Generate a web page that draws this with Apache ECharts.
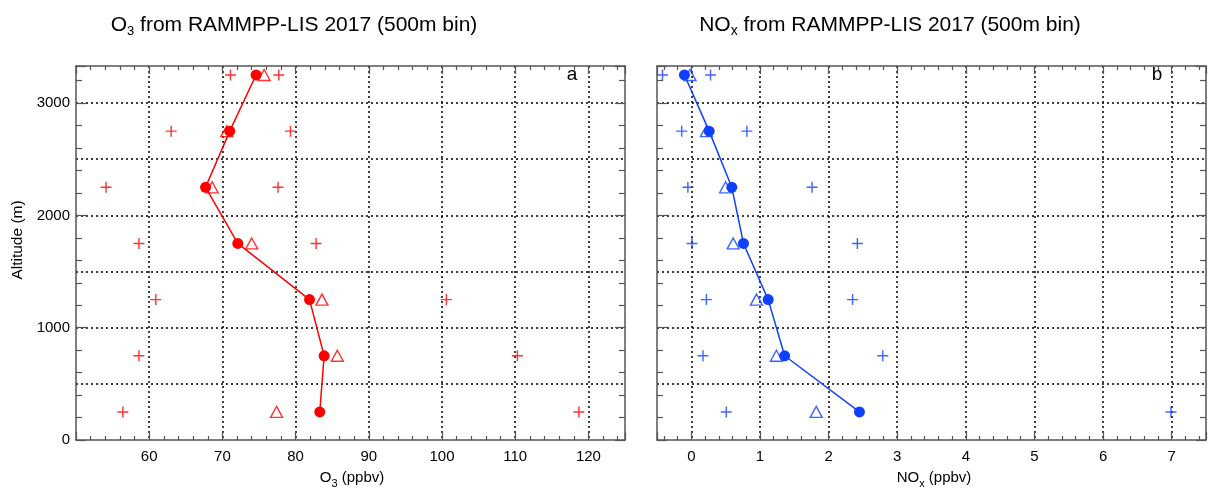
<!DOCTYPE html>
<html><head><meta charset="utf-8">
<script src="https://cdn.jsdelivr.net/npm/echarts@6/dist/echarts.min.js"></script>
<style>html,body{margin:0;padding:0;background:#fff}#c{width:1209px;height:489px}</style>
</head><body><div id="c"></div>
<script>
// ---- data ----
const altitudes = [250, 750, 1250, 1750, 2250, 2750, 3250];
const o3Mean   = [83.3, 83.9, 81.9, 72.1, 67.7, 71.0, 74.6];
const o3Median = [77.4, 85.7, 83.6, 74.0, 68.6, 70.6, 75.7];
const o3Low    = [56.4, 58.6, 60.9, 58.6, 54.1, 63.0, 71.1];
const o3High   = [118.7, 110.3, 100.6, 82.8, 77.6, 79.3, 77.7];
const noxMean   = [2.45, 1.36, 1.12, 0.76, 0.59, 0.26, -0.10];
const noxMedian = [1.82, 1.24, 0.95, 0.61, 0.50, 0.22, -0.02];
const noxLow    = [0.51, 0.17, 0.22, 0.01, -0.05, -0.14, -0.42];
const noxHigh   = [6.99, 2.79, 2.35, 2.42, 1.76, 0.81, 0.28];
const o3TickLabels  = [60, 70, 80, 90, 100, 110, 120];
const noxTickLabels = [0, 1, 2, 3, 4, 5, 6, 7];
const altTickLabels = [0, 1000, 2000, 3000];

const FONT = '"Liberation Sans", Arial, Helvetica, sans-serif';
const RED = '#ff0000', BLUE = '#1040ff';
const AX = '#555555';
const PLUS = 'path://M4.35,0H5.65V4.35H10V5.65H5.65V10H4.35V5.65H0V4.35H4.35Z';
const pair = (xs) => xs.map((x, i) => [x, altitudes[i]]);

const yMin = 0, yMax = 3330;
const axLine = {show: true, onZero: false, lineStyle: {color: AX, width: 1.5}};
const noLine = {show: false, onZero: false};
const dotted = {show: true, showMinLine: false, showMaxLine: false,
  lineStyle: {color: '#000', width: 1.5, type: [2, 3]}};
const tickStyle = {color: AX, width: 1.2};

function xAxes(g, range, labels) {
  const base = {gridIndex: g, type: 'value', min: range.min, max: range.max};
  if (range.interval) base.interval = range.interval; else base.splitNumber = range.splitNumber;
  return [
    Object.assign({}, base, {position: 'bottom', z: 1,
      axisLine: axLine,
      axisTick: {show: true, inside: true, length: 8, lineStyle: tickStyle},
      minorTick: {show: true, splitNumber: 5, length: 4, lineStyle: tickStyle},
      axisLabel: {show: true, inside: false, margin: 9, fontSize: 15, color: '#000', fontFamily: FONT,
        formatter: v => labels.some(t => Math.abs(t - v) < 1e-9) ? String(v) : ''},
      splitLine: {show: false}}),
    Object.assign({}, base, {position: 'top', z: 1,
      axisLine: axLine,
      axisTick: {show: true, inside: true, length: 8, lineStyle: tickStyle},
      minorTick: {show: true, splitNumber: 5, length: 4, lineStyle: tickStyle},
      axisLabel: {show: false}, splitLine: {show: false}}),
    Object.assign({}, base, {position: 'bottom', z: 0,
      axisLine: noLine, axisTick: {show: false}, axisLabel: {show: false},
      splitLine: dotted})
  ];
}
function yAxes(g, showLabels) {
  const base = {gridIndex: g, type: 'value', min: yMin, max: yMax};
  return [
    Object.assign({}, base, {position: 'left', interval: 1000, z: 1,
      axisLine: axLine,
      axisTick: {show: true, inside: true, length: 10, lineStyle: tickStyle},
      minorTick: {show: true, splitNumber: 5, length: 6, lineStyle: tickStyle},
      axisLabel: {show: showLabels, margin: 6, fontSize: 15, color: '#000', fontFamily: FONT,
        formatter: v => altTickLabels.includes(v) ? String(v) : ''},
      splitLine: {show: false}}),
    Object.assign({}, base, {position: 'right', interval: 1000, z: 1,
      axisLine: axLine,
      axisTick: {show: true, inside: true, length: 10, lineStyle: tickStyle},
      minorTick: {show: true, splitNumber: 5, length: 6, lineStyle: tickStyle},
      axisLabel: {show: false}, splitLine: {show: false}}),
    Object.assign({}, base, {position: 'left', interval: 500, z: 0,
      axisLine: noLine, axisTick: {show: false}, axisLabel: {show: false},
      splitLine: dotted})
  ];
}
function panelSeries(g, color, mean, median, low, high) {
  const xi = g * 3, yi = g * 3;
  const common = {xAxisIndex: xi, yAxisIndex: yi, animation: false, silent: true};
  return [
    Object.assign({}, common, {type: 'scatter', z: 3, symbol: PLUS, symbolSize: 11,
      itemStyle: {color: color}, data: pair(low)}),
    Object.assign({}, common, {type: 'scatter', z: 3, symbol: PLUS, symbolSize: 11,
      itemStyle: {color: color}, data: pair(high)}),
    Object.assign({}, common, {type: 'scatter', z: 4, symbol: 'triangle', symbolSize: [12, 11],
      itemStyle: {color: 'rgba(0,0,0,0)', borderColor: color, borderWidth: 1.4}, data: pair(median)}),
    Object.assign({}, common, {type: 'line', z: 5, symbol: 'circle', symbolSize: 11, showSymbol: true,
      lineStyle: {color: color, width: 1.5}, itemStyle: {color: color, borderWidth: 0}, data: pair(mean)})
  ];
}

const chart = echarts.init(document.getElementById('c'), null, {renderer: 'canvas'});
chart.setOption({
  animation: false,
  backgroundColor: '#fff',
  grid: [
    {left: 76, top: 66, width: 549, height: 374},
    {left: 657, top: 66, width: 550, height: 374}
  ],
  xAxis: [].concat(
    xAxes(0, {min: 50, max: 125, interval: 10}, o3TickLabels),
    xAxes(1, {min: -0.5, max: 7.5, splitNumber: 8}, noxTickLabels)
  ),
  yAxis: [].concat(yAxes(0, true), yAxes(1, false)),
  series: [].concat(
    panelSeries(0, RED, o3Mean, o3Median, o3Low, o3High),
    panelSeries(1, BLUE, noxMean, noxMedian, noxLow, noxHigh)
  ),
  graphic: [
    {type: 'text', x: 294, y: 25, style: {
      text: '{m|O}{s|3}{m| from RAMMPP-LIS 2017 (500m bin)}', align: 'center', verticalAlign: 'middle',
      rich: {m: {fontSize: 21, fontFamily: FONT, fill: '#000'}, s: {fontSize: 13, fontFamily: FONT, fill: '#000', padding: [13, 0, 0, 0]}}}},
    {type: 'text', x: 890, y: 25, style: {
      text: '{m|NO}{s|x}{m| from RAMMPP-LIS 2017 (500m bin)}', align: 'center', verticalAlign: 'middle',
      rich: {m: {fontSize: 21, fontFamily: FONT, fill: '#000'}, s: {fontSize: 14, fontFamily: FONT, fill: '#000', padding: [13, 0, 0, 0]}}}},
    {type: 'text', x: 352, y: 478, style: {
      text: '{m|O}{s|3}{m| (ppbv)}', align: 'center', verticalAlign: 'middle',
      rich: {m: {fontSize: 15, fontFamily: FONT, fill: '#000'}, s: {fontSize: 11, fontFamily: FONT, fill: '#000', padding: [11, 0, 0, 0]}}}},
    {type: 'text', x: 934, y: 478, style: {
      text: '{m|NO}{s|x}{m| (ppbv)}', align: 'center', verticalAlign: 'middle',
      rich: {m: {fontSize: 15, fontFamily: FONT, fill: '#000'}, s: {fontSize: 11, fontFamily: FONT, fill: '#000', padding: [11, 0, 0, 0]}}}},
    {type: 'text', x: 18, y: 240, rotation: Math.PI / 2, style: {
      text: 'Altitude (m)', align: 'center', verticalAlign: 'middle', fontSize: 15.5, fontFamily: FONT, fill: '#000'}},
    {type: 'text', x: 572, y: 75, style: {
      text: 'a', align: 'center', verticalAlign: 'middle', fontSize: 19, fontFamily: FONT, fill: '#000'}},
    {type: 'text', x: 1157, y: 75, style: {
      text: 'b', align: 'center', verticalAlign: 'middle', fontSize: 19, fontFamily: FONT, fill: '#000'}}
  ]
});
</script></body></html>
